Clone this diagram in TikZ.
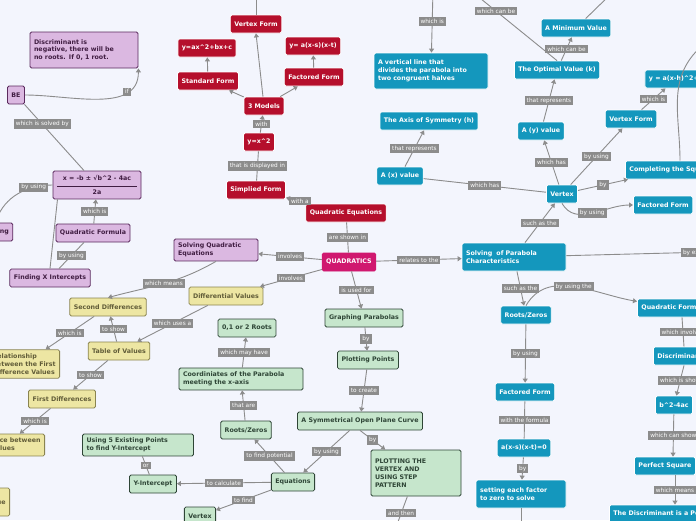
\documentclass[tikz,border=0pt]{standalone}
\usepackage{fontspec}
\setmainfont{DejaVu Sans}
\usetikzlibrary{arrows.meta}
\definecolor{bgc}{HTML}{F3F5FD}
\definecolor{redc}{HTML}{B50F2C}
\definecolor{magc}{HTML}{D0186F}
\definecolor{purf}{HTML}{DBB8E1}
\definecolor{purd}{HTML}{5B2A5E}
\definecolor{yelf}{HTML}{EDE6A3}
\definecolor{yeld}{HTML}{8A8450}
\definecolor{grnf}{HTML}{C6E6CC}
\definecolor{grnd}{HTML}{2E4536}
\definecolor{bluc}{HTML}{1497BD}
\definecolor{labc}{HTML}{8C8C8C}
\tikzset{
  box/.style={rounded corners=1.5pt, inner sep=4pt, minimum height=18pt, font=\fontsize{6.3}{7.8}\selectfont\bfseries, line width=.8pt, align=left},
  redbox/.style={box, fill=redc, draw=white, text=white},
  magbox/.style={box, fill=magc, draw=magc, text=white},
  purbox/.style={box, fill=purf, draw=purd, text=purd!70!black},
  yelbox/.style={box, fill=yelf, draw=yeld, text=yeld!70!black},
  grnbox/.style={box, fill=grnf, draw=grnd, text=grnd},
  blubox/.style={box, fill=bluc, draw=white, text=white},
  lab/.style={fill=labc, text=white, inner sep=2pt, font=\fontsize{5.8}{6.8}\selectfont},
  conn/.style={draw=labc, line width=.9pt, -{Triangle[width=5pt,length=4pt]}},
  plain/.style={draw=labc, line width=.9pt}
}
\begin{document}
\begin{tikzpicture}[x=1pt, y=-1pt]
\clip (0,0) rectangle (696,520);
\fill[bgc] (0,0) rectangle (696,520);
% red branch
\node[redbox] (vform) at (256,24) {Vertex Form};
\node[redbox] (stdeq) at (207,48) {y=ax\^{}2+bx+c};
\node[redbox] (facteq) at (313,46) {y= a(x-s)(x-t)};
\node[redbox] (std) at (208,81) {Standard Form};
\node[redbox] (fact) at (314,77) {Factored Form};
\node[redbox] (models) at (264,106) {3 Models};
\node[redbox] (yx) at (259,142) {y=x\^{}2};
\node[redbox] (simp) at (256,190) {Simplied Form};
\node[redbox] (qe) at (346,213) {Quadratic Equations};
\node[magbox] (quad) at (349,262) {QUADRATICS};
\coordinate (vtop) at (256,-10);
% purple branch
\node[purbox, text width=100pt, minimum height=36pt] (disc) at (84,50) {Discriminant is\\negative, there will be\\no roots. If 0, 1 root.};
\node[purbox] (be) at (16,95) {BE};
\node[purbox, align=center] (formula) at (97,185) {x = -b ± √b\^{}2 - 4ac\\[-2pt]\rule{80pt}{.4pt}\\[1pt]2a};
\node[purbox] (factoring) at (-8,232) {Factoring};
\node[purbox, text width=76pt] (solving) at (216,250) {Solving Quadratic\\Equations};
\node[purbox] (qform) at (93,233) {Quadratic Formula};
\node[purbox] (findx) at (50,278) {Finding X Intercepts};
% yellow branch
\node[yelbox] (diffv) at (226,296) {Differential Values};
\node[yelbox] (secd) at (108,307) {Second Differences};
\node[yelbox, anchor=east] (rel) at (60,364) {Relationship\\between the First\\Difference Values};
\node[yelbox] (table) at (119,351) {Table of Values};
\node[yelbox] (firstd) at (62,399) {First Differences};
\node[yelbox, anchor=east] (between) at (45,445) {Difference between\\the y-values};
\node[yelbox, minimum height=28pt, anchor=east] (yleft) at (10,502) {Value};
% green branch
\node[grnbox] (graph) at (364,318) {Graphing Parabolas};
\node[grnbox] (roots) at (247,328) {0,1 or 2 Roots};
\node[grnbox] (plot) at (368,360) {Plotting Points};
\node[grnbox, text width=116pt] (coord) at (241,379) {Coordiniates of the Parabola\\meeting the x-axis};
\node[grnbox] (sym) at (360,421) {A Symmetrical Open Plane Curve};
\node[grnbox] (rz) at (246,430) {Roots/Zeros};
\node[grnbox, text width=103pt] (five) at (138,445) {Using 5 Existing Points\\to find Y-Intercept};
\node[grnbox, text width=82pt, minimum height=46pt] (step) at (416,473) {PLOTTING THE\\VERTEX AND\\USING STEP\\PATTERN};
\node[grnbox] (eqs) at (293,482) {Equations};
\node[grnbox] (yint) at (153,484) {Y-Intercept};
\node[grnbox] (gvert) at (200,516) {Vertex};
\coordinate (stepdown) at (395,530);
% blue branch
\node[blubox] (minval) at (576,28) {A Minimum Value};
\node[blubox, text width=106pt, minimum height=36pt] (vline) at (431,71) {A vertical line that\\divides the parabola into\\two congruent halves};
\node[blubox] (optim) at (557,70) {The Optimal Value (k)};
\node[blubox] (yah) at (676,79) {y = a(x-h)\^{}2+k};
\node[blubox] (topr) at (705,40) {\phantom{A}};
\node[blubox] (vformb) at (631,119) {Vertex Form};
\node[blubox] (axis) at (429,121) {The Axis of Symmetry (h)};
\node[blubox] (ayv) at (541,131) {A (y) value};
\node[blubox, anchor=west] (complete) at (625,170) {Completing the Square};
\node[blubox, anchor=west] (factb) at (633,205) {Factored Form};
\node[blubox] (axv) at (400,176) {A (x) value};
\node[blubox] (vertex) at (562,194) {Vertex};
\node[blubox, text width=96pt, minimum height=28pt] (solvp) at (514,257) {Solving\ \ of Parabola\\Characteristics};
\node[blubox] (rzb) at (526,315) {Roots/Zeros};
\node[blubox, anchor=west] (qfb) at (637,308) {Quadratic Formula};
\node[blubox, anchor=west] (discb) at (653,356) {Discriminant};
\node[blubox] (factb2) at (525,392) {Factored Form};
\node[blubox] (btwo) at (674,405) {b\^{}2-4ac};
\node[blubox] (axst) at (524,448) {a(x-s)(x-t)=0};
\node[blubox, anchor=west] (persq) at (634,466) {Perfect Square};
\node[blubox, text width=82pt, minimum height=28pt] (setz) at (521,494) {setting each factor\\to zero to solve};
\node[blubox, anchor=west] (discis) at (609,514) {The Discriminant is a Perfect Square};
\coordinate (ltop) at (433,-10);
\coordinate (otop) at (470,-10);
\coordinate (mtop) at (615,-10);
\coordinate (setdown) at (521,530);
\coordinate (expr) at (710,252);
% connectors
\draw[conn] (models) -- (vform.south);
\draw[conn] (vform) -- (vtop);
\draw[conn] (models) -- (std);
\draw[conn] (models) -- (fact);
\draw[conn] (std) -- (stdeq);
\draw[conn] (fact) -- (facteq);
\draw[conn] (yx) -- node[lab]{with} (models);
\draw[plain] (simp) -- node[lab]{that is displayed in} (yx);
\draw[conn] (qe) -- node[lab, pos=.4]{with a} (simp);
\draw[plain] (quad) -- node[lab]{are shown in} (qe);
\draw[conn] (quad) -- node[lab]{involves} (solving);
\draw[conn] (quad) -- node[lab]{involves} (diffv);
\draw[conn] (quad) -- node[lab]{is used for} (graph);
\draw[conn] (quad) -- node[lab]{relates to the} (solvp);
\draw[conn] (be) to[out=0, in=-90] node[lab, pos=.75]{if} (disc.south east);
\draw[plain] (be) -- node[lab, pos=.3]{which is solved by} (formula);
\draw[conn] (formula.west) to[out=180, in=70] node[lab, pos=.25]{by using} (factoring);
\draw[conn] (qform) -- node[lab]{which is} (formula);
\draw[plain] (qform) -- node[lab]{by using} (findx);
\draw[plain] (formula.200) -- (findx.north);
\draw[conn] (solving.south) to[out=-150, in=15] node[lab, pos=.5]{which means} (secd.north);
\draw[conn] (diffv) -- node[lab]{which uses a} (table);
\draw[conn] (table) -- node[lab]{to show} (secd);
\draw[conn] (secd) -- node[lab]{which is} (rel);
\draw[conn] (table) -- node[lab]{to show} (firstd);
\draw[conn] (firstd) -- node[lab]{which is} (between);
\draw[conn] (graph) -- node[lab]{by} (plot);
\draw[conn] (plot) -- node[lab]{to create} (sym);
\draw[conn] (sym.south) -- node[lab]{by} (step);
\draw[conn] (sym) -- node[lab]{by using} (eqs);
\draw[plain] (step) -- node[lab]{and then} (stepdown);
\draw[conn] (eqs) -- node[lab]{to find potential} (rz);
\draw[conn] (rz) -- node[lab]{that are} (coord);
\draw[conn] (coord) -- node[lab]{which may have} (roots);
\draw[conn] (eqs) -- node[lab]{to calculate} (yint);
\draw[plain] (yint) -- node[lab]{or} (five);
\draw[conn] (eqs) -- node[lab]{to find} (gvert);
\draw[conn] (solvp) -- node[lab]{such as the} (vertex);
\draw[plain] (vertex) -- node[lab]{which has} (axv);
\draw[conn] (axv) -- node[lab]{that represents} (axis);
\draw[conn] (ltop) -- node[lab, pos=.5]{which is} (vline);
\draw[plain] (otop) -- node[lab, pos=.3]{which can be} (optim.north);
\draw[conn] (vertex) -- node[lab]{which has} (ayv);
\draw[conn] (ayv) -- node[lab]{that represents} (optim);
\draw[conn] (optim) -- node[lab]{which can be} (minval);
\draw[plain] (minval) -- node[lab, pos=.8]{where} (mtop);
\draw[conn] (vertex) -- node[lab]{by using} (vformb);
\draw[conn] (vformb) -- node[lab]{which is} (yah);
\draw[conn] (vertex) -- node[lab]{by} (complete);
\draw[conn] (vertex.south) to[out=-60, in=180] node[lab]{by using} (factb);
\draw[plain] (complete.north -| 680,0) to[out=90, in=225] (topr.south west);
\draw[plain] (solvp) -- node[lab, pos=.88]{by exp} (expr);
\draw[conn] (solvp) -- node[lab]{such as the} (rzb);
\draw[conn] (rzb.north) to[out=60, in=170] node[lab]{by using the} (qfb);
\draw[conn] (rzb) -- node[lab]{by using} (factb2);
\draw[plain] (factb2) -- node[lab]{with the formula} (axst);
\draw[conn] (axst) -- node[lab]{by} (setz);
\draw[plain] (setz) -- (setdown);
\draw[plain] (qfb.south -| 682,0) -- node[lab]{which involves} (discb.north -| 684,0);
\draw[conn] (discb.south -| 684,0) -- node[lab]{which is show} (btwo);
\draw[conn] (btwo) -- node[lab]{which can show} (persq.north -| 673,0);
\draw[conn] (persq.south -| 675,0) -- node[lab]{which means} (discis.north -| 675,0);
\end{tikzpicture}
\end{document}
